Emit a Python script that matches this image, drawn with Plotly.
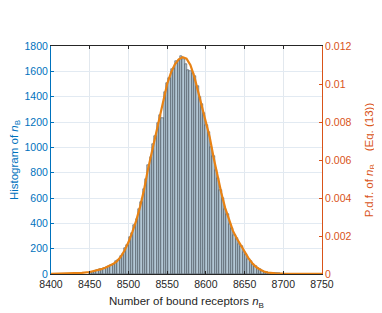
import plotly.graph_objects as go

# Histogram (bin width 3)
bin_centers = [8451, 8454, 8457, 8460, 8463, 8466, 8469, 8472, 8475, 8478,
               8481, 8484, 8487, 8490, 8493, 8496, 8499, 8502, 8505, 8508,
               8511, 8514, 8517, 8520, 8523, 8526, 8529, 8532, 8535, 8538,
               8541, 8544, 8547, 8550, 8553, 8556, 8559, 8562, 8565, 8568,
               8571, 8574, 8577, 8580, 8583, 8586, 8589, 8592, 8595, 8598,
               8601, 8604, 8607, 8610, 8613, 8616, 8619, 8622, 8625, 8628,
               8631, 8634, 8637, 8640, 8643, 8646, 8649, 8652, 8655, 8658,
               8661, 8664, 8667, 8670, 8673, 8676, 8679, 8682, 8685, 8688,
               8691, 8694, 8697, 8700]
bin_counts = [14, 19, 27, 28, 37, 42, 45, 58, 60, 75,
              80, 99, 110, 140, 160, 205, 230, 290, 322, 390,
              436, 515, 570, 672, 748, 860, 920, 1030, 1090, 1195,
              1255, 1230, 1440, 1510, 1545, 1615, 1630, 1680, 1690, 1725,
              1700, 1660, 1610, 1600, 1590, 1560, 1485, 1400, 1345, 1270,
              1175, 1120, 1005, 935, 820, 755, 660, 600, 512, 470,
              398, 362, 310, 285, 240, 220, 176, 158, 120, 104,
              76, 63, 45, 36, 25, 19, 12, 11, 7, 6,
              4, 4, 2, 3]

# P.d.f. curve (right axis)
pdf_x = [8400, 8410, 8420, 8430, 8440, 8450, 8455, 8460, 8465, 8470,
         8475, 8480, 8485, 8490, 8495, 8500, 8505, 8510, 8515, 8520,
         8525, 8530, 8535, 8540, 8545, 8550, 8555, 8560, 8565, 8570,
         8575, 8580, 8585, 8590, 8595, 8600, 8605, 8610, 8615, 8620,
         8625, 8630, 8635, 8640, 8645, 8650, 8655, 8660, 8665, 8670,
         8675, 8680, 8685, 8690, 8700, 8710, 8720, 8750]
pdf_y = [0.000007, 0.000013, 0.00002, 0.000033, 0.00006, 0.000107, 0.000147, 0.0002, 0.000253, 0.000333,
         0.00042, 0.00052, 0.000667, 0.0009, 0.001233, 0.001667, 0.0022, 0.0028, 0.003533, 0.0044,
         0.005467, 0.0064, 0.007333, 0.008267, 0.0092, 0.01, 0.0106, 0.011033, 0.0113, 0.011413,
         0.011333, 0.011, 0.0104, 0.0096, 0.008867, 0.008067, 0.0072, 0.006133, 0.005133, 0.004267,
         0.003467, 0.0028, 0.002267, 0.001867, 0.0015, 0.001133, 0.000833, 0.000567, 0.000367, 0.000233,
         0.000133, 0.00008, 0.000053, 0.000033, 0.00002, 0.000013, 0.000007, 0.000003]

x_ticks = [8400, 8450, 8500, 8550, 8600, 8650, 8700, 8750]
y_ticks = [0, 200, 400, 600, 800, 1000, 1200, 1400, 1600, 1800]
y2_ticks = [0, 0.002, 0.004, 0.006, 0.008, 0.01, 0.012]
y2_labels = ["0", "0.002", "0.004", "0.006", "0.008", "0.01", "0.012"]

BLUE = "rgb(0,114,189)"
ORANGE = "rgb(217,83,25)"
DARK = "rgb(38,38,38)"
FONT = "Liberation Sans, Arial, sans-serif"

fig = go.Figure()
fig.add_trace(go.Bar(
    x=bin_centers, y=bin_counts, width=3,
    marker=dict(color="rgb(180,200,214)", line=dict(color="rgb(40,52,62)", width=0.5)),
    yaxis="y", showlegend=False,
))
fig.add_trace(go.Scatter(
    x=pdf_x, y=pdf_y, mode="lines", line=dict(color="rgb(232,130,20)", width=2.2, shape="linear"),
    yaxis="y2", showlegend=False,
))

fig.update_layout(
    width=374, height=305,
    margin=dict(l=43, r=60, t=38, b=39),
    paper_bgcolor="white", plot_bgcolor="white",
    bargap=0,
    font=dict(family=FONT, size=10.5, color=DARK),
    xaxis=dict(
        range=[8400, 8750], tickvals=x_ticks, ticktext=[str(v) for v in x_ticks],
        showgrid=True, gridcolor="rgb(226,232,238)", gridwidth=1,
        showline=True, linecolor=DARK, linewidth=1, mirror="ticks",
        ticks="inside", ticklen=3, tickcolor=DARK,
        zeroline=False, automargin=False,
        title=dict(text="Number of bound receptors <i>n</i><sub>B</sub>", font=dict(size=11.5, color=DARK), standoff=8),
        tickfont=dict(color=DARK, size=10.5),
    ),
    yaxis=dict(
        range=[0, 1800], tickvals=y_ticks,
        showgrid=True, gridcolor="rgb(226,234,242)", gridwidth=1,
        showline=True, linecolor=BLUE, linewidth=1,
        ticks="inside", ticklen=3, tickcolor=BLUE,
        zeroline=False, automargin=False,
        tickfont=dict(color=BLUE, size=10.5),
        title=dict(text="Histogram of <i>n</i><sub>B</sub>", font=dict(size=11.5, color=BLUE), standoff=6),
    ),
    yaxis2=dict(
        range=[0, 0.012], tickvals=y2_ticks, ticktext=y2_labels,
        overlaying="y", side="right",
        showgrid=False,
        showline=True, linecolor=ORANGE, linewidth=1,
        ticks="inside", ticklen=3, tickcolor=ORANGE,
        zeroline=False, automargin=False,
        tickfont=dict(color=ORANGE, size=10.5),
        title=dict(text="P.d.f. of <i>n</i><sub>B</sub>&nbsp;&nbsp;&nbsp;&nbsp;(Eq. (13))", font=dict(size=11.5, color=ORANGE), standoff=14),
    ),
)

fig.write_html("out.html")
